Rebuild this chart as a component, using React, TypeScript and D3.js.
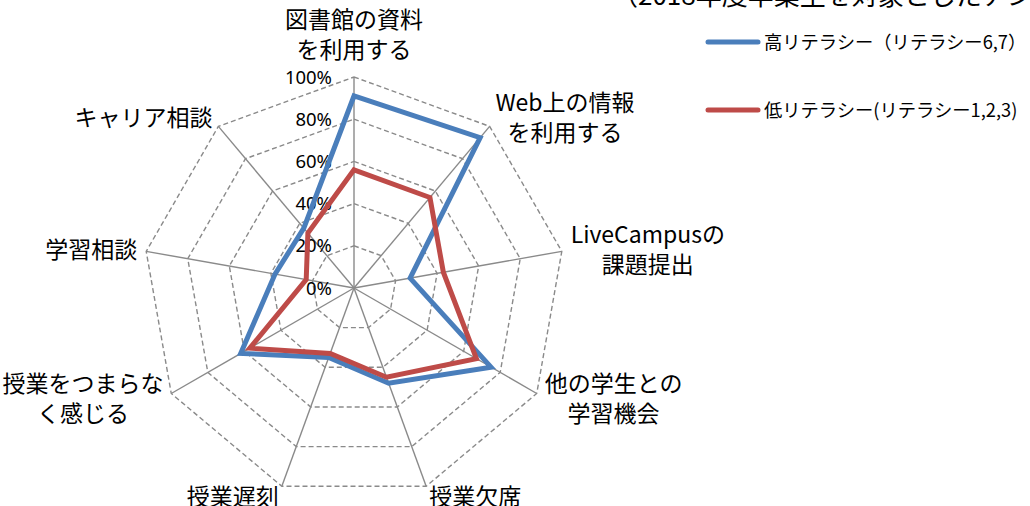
import React from "react";
import * as d3 from "d3";

const categories: string[][] = [
  ["図書館の資料", "を利用する"],
  ["Web上の情報", "を利用する"],
  ["LiveCampusの", "課題提出"],
  ["他の学生との", "学習機会"],
  ["授業欠席"],
  ["授業遅刻"],
  ["授業をつまらな", "く感じる"],
  ["学習相談"],
  ["キャリア相談"],
];
const highLiteracy = [0.91, 0.93, 0.27, 0.75, 0.48, 0.35, 0.62, 0.38, 0.37];
const lowLiteracy = [0.56, 0.56, 0.43, 0.67, 0.45, 0.33, 0.57, 0.23, 0.34];
const tickValues = [0, 0.2, 0.4, 0.6, 0.8, 1.0];
const tickLabels = ["0%", "20%", "40%", "60%", "80%", "100%"];
const seriesNames = ["高リテラシー（リテラシー6,7）", "低リテラシー(リテラシー1,2,3)"];
const titleText = "（2018年度卒業生を対象としたアンケート）";

const W = 1030;
const H = 506;
const CX = 354;
const CY = 288;
const R = 211;
const BLUE = "#4a7ebb";
const RED = "#be4b48";
const GRID = "#8a8a8a";
const JP = "'Noto Sans CJK JP', 'Noto Sans', sans-serif";

let measureCtx: CanvasRenderingContext2D | null = null;
function textWidth(s: string, font: string): number {
  if (!measureCtx) {
    const c = document.createElement("canvas");
    measureCtx = c.getContext("2d");
  }
  if (!measureCtx) return s.length * 20;
  measureCtx.font = font;
  return measureCtx.measureText(s).width;
}

export default function App() {
  const n = categories.length;
  const rScale = d3.scaleLinear().domain([0, 1]).range([0, R]);
  const angle = d3
    .scaleLinear()
    .domain([0, n])
    .range([0, 2 * Math.PI]);
  const pt = (i: number, v: number): [number, number] => {
    const a = angle(i);
    const r = rScale(v);
    return [CX + r * Math.sin(a), CY - r * Math.cos(a)];
  };
  const radial = d3
    .lineRadial<number>()
    .angle((_, i) => angle(i))
    .radius((d) => rScale(d))
    .curve(d3.curveLinearClosed);

  const ringVals = tickValues.filter((v) => v > 0);
  const series = [
    { values: highLiteracy, color: BLUE },
    { values: lowLiteracy, color: RED },
  ];

  const fs = 23;
  const lh = 30;
  const labelFont = `${fs}px 'Noto Sans CJK JP'`;

  return (
    <svg
      width={W}
      height={H}
      style={{ position: "fixed", left: 0, top: 0, background: "#fff" }}
    >
      <rect width={W} height={H} fill="#fff" />
      {/* cropped title */}
      <text x={612} y={5} fontFamily={JP} fontSize={26} fill="#000">
        {titleText}
      </text>
      {/* grid rings */}
      {ringVals.map((v) => (
        <path
          key={v}
          d={radial(categories.map(() => v)) || ""}
          transform={`translate(${CX},${CY})`}
          fill="none"
          stroke={GRID}
          strokeWidth={1.4}
          strokeDasharray="5,3"
        />
      ))}
      {/* spokes */}
      {categories.map((_, i) => {
        const [x, y] = pt(i, 1);
        return (
          <line key={i} x1={CX} y1={CY} x2={x} y2={y} stroke={GRID} strokeWidth={1.4} />
        );
      })}
      {/* tick labels */}
      {tickValues.map((v, i) => (
        <text
          key={v}
          x={CX - 22}
          y={CY - rScale(v)}
          dy="0.36em"
          textAnchor="end"
          fontFamily="'Noto Sans', sans-serif"
          fontSize={18.5}
          fill="#000"
        >
          {tickLabels[i]}
        </text>
      ))}
      {/* series */}
      {series.map((s, k) => (
        <path
          key={k}
          d={radial(s.values) || ""}
          transform={`translate(${CX},${CY})`}
          fill="none"
          stroke={s.color}
          strokeWidth={5}
          strokeLinejoin="miter"
        />
      ))}
      {/* category labels */}
      {categories.map((lines, i) => {
        const a = angle(i);
        const s = Math.sin(a);
        const c = Math.cos(a);
        const [vx, vy] = pt(i, 1);
        const bw = Math.max(...lines.map((l) => textWidth(l, labelFont)));
        let mx = vx;
        let cyb = vy - 11 * c;
        if (Math.abs(s) < 0.1) {
          const bottom = vy - 15;
          cyb = bottom - (lines.length * lh) / 2 + 3;
        } else if (s > 0) {
          mx = vx + 9 * s + bw / 2;
        } else {
          mx = vx + 9 * s - bw / 2;
        }
        return (
          <text key={i} textAnchor="middle" fontFamily={JP} fontSize={fs} fill="#000">
            {lines.map((ln, j) => (
              <tspan
                key={j}
                x={mx}
                y={cyb + (j - (lines.length - 1) / 2) * lh + fs * 0.36}
              >
                {ln}
              </tspan>
            ))}
          </text>
        );
      })}
      {/* legend */}
      {series.map((s, k) => {
        const ly = k === 0 ? 42 : 110;
        return (
          <g key={k}>
            <line
              x1={708}
              x2={758}
              y1={ly}
              y2={ly}
              stroke={s.color}
              strokeWidth={5}
              strokeLinecap="round"
            />
            <text
              x={764}
              y={ly}
              dy="0.36em"
              fontFamily={JP}
              fontSize={18.3}
              fill="#000"
            >
              {seriesNames[k]}
            </text>
          </g>
        );
      })}
    </svg>
  );
}
